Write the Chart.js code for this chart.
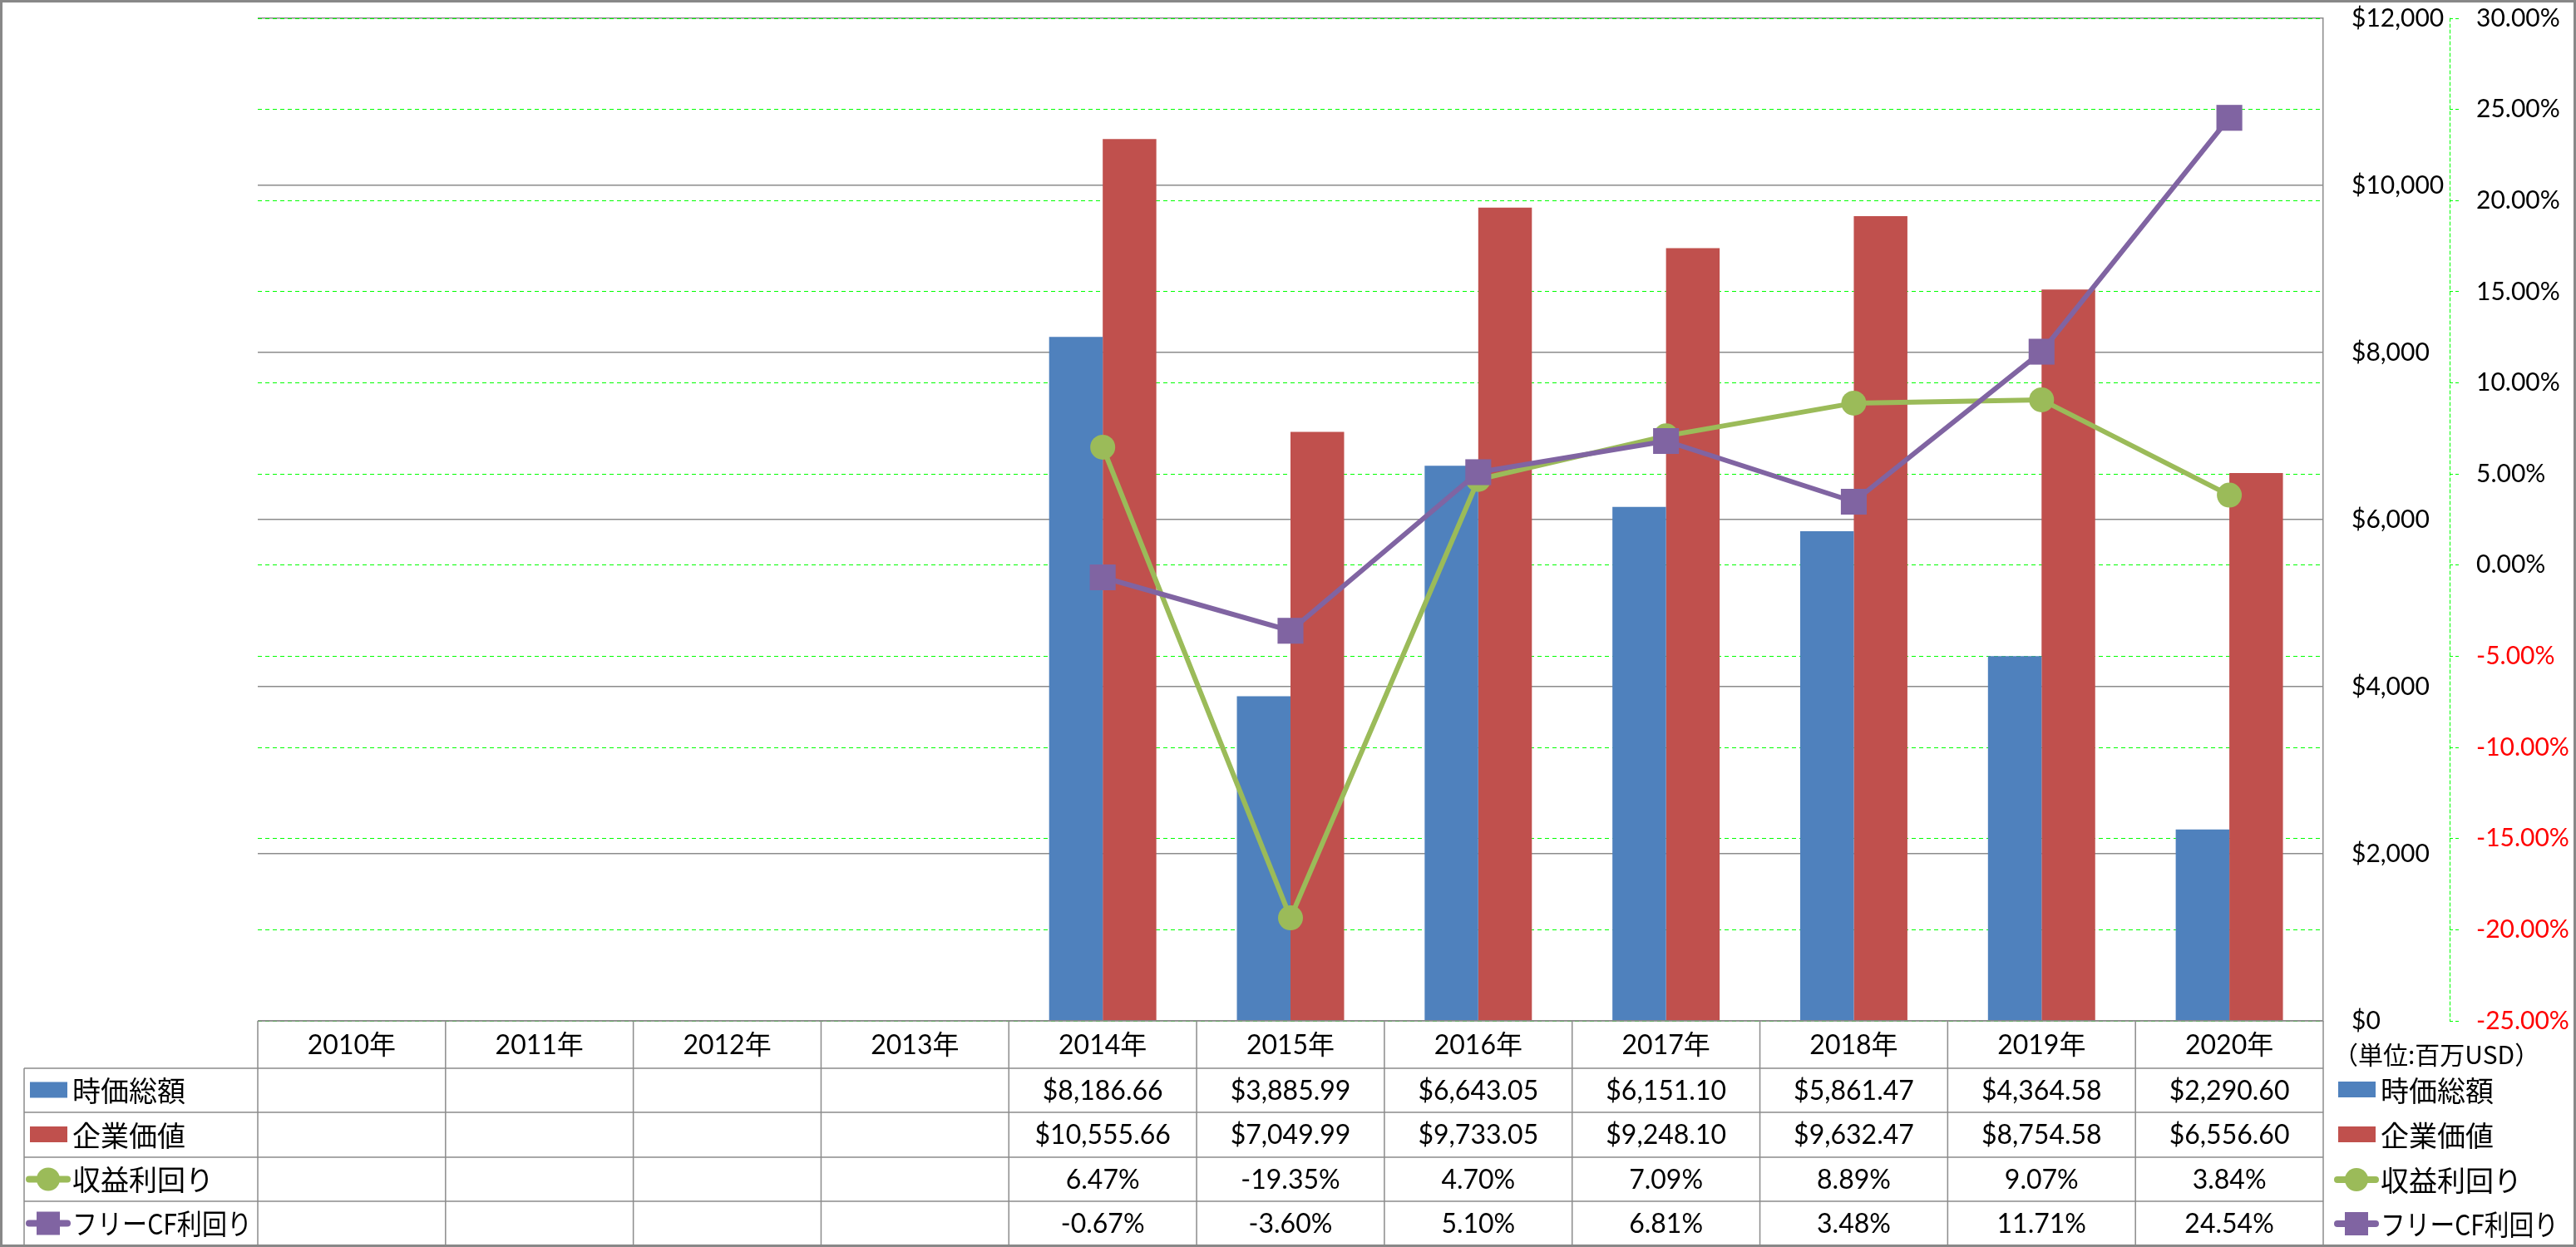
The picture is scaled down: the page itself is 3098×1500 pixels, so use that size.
<!DOCTYPE html>
<html>
<head>
<meta charset="utf-8">
<script src="https://cdn.jsdelivr.net/npm/chart.js@4.4.0/dist/chart.umd.min.js"></script>
<style>
  html, body { margin: 0; padding: 0; background: #fff; }
  #wrap { width: 3098px; height: 1500px; }
</style>
</head>
<body>
<div id="wrap"><canvas id="myChart" width="3098" height="1500"></canvas></div>
<script>
// データ
const years = ['2010年', '2011年', '2012年', '2013年', '2014年', '2015年', '2016年', '2017年', '2018年', '2019年', '2020年'];
const marketCap = [null, null, null, null, 8186.66, 3885.99, 6643.05, 6151.10, 5861.47, 4364.58, 2290.60];
const enterpriseValue = [null, null, null, null, 10555.66, 7049.99, 9733.05, 9248.10, 9632.47, 8754.58, 6556.60];
const earningsYield = [null, null, null, null, 6.47, -19.35, 4.70, 7.09, 8.89, 9.07, 3.84];
const fcfYield = [null, null, null, null, -0.67, -3.60, 5.10, 6.81, 3.48, 11.71, 24.54];
const seriesNames = ['時価総額', '企業価値', '収益利回り', 'フリーCF利回り'];
const unitLabel = '（単位:百万USD）';

const BLUE = '#4F81BD';
const RED = '#C0504D';
const GREEN = '#9BBB59';
const PURPLE = '#8064A2';
const GRAY = '#8c8c8c';
const LATIN = 'Lato, "Noto Sans CJK JP"';
const CJK = '"Noto Sans CJK JP"';

const money = v => '$' + v.toLocaleString('en-US', { minimumFractionDigits: 2, maximumFractionDigits: 2 });
const pct = v => v.toFixed(2) + '%';

// 凡例キーを描く
function drawKey(ctx, i, cx, cy) {
  if (i < 2) {
    ctx.fillStyle = i === 0 ? BLUE : RED;
    ctx.fillRect(cx - 22, cy - 10, 45, 19);
    return;
  }
  const c = i === 2 ? GREEN : PURPLE;
  ctx.strokeStyle = c;
  ctx.lineWidth = 8;
  ctx.lineCap = 'round';
  ctx.beginPath();
  ctx.moveTo(cx - 23, cy);
  ctx.lineTo(cx + 23, cy);
  ctx.stroke();
  ctx.fillStyle = c;
  if (i === 2) {
    ctx.beginPath();
    ctx.arc(cx, cy, 14, 0, Math.PI * 2);
    ctx.fill();
  } else {
    ctx.fillRect(cx - 14, cy - 14, 28, 28);
  }
}

// データテーブル・凡例・枠
const tablePlugin = {
  id: 'dataTable',
  afterDraw(chart) {
    const ctx = chart.ctx;
    const area = chart.chartArea;
    const n = years.length;
    const colW = (area.right - area.left) / n;
    const top = area.bottom;
    const rowY = [top, top + 57, top + 110, top + 164, top + 217, top + 270];
    const legendLeft = 29;
    const rows = [marketCap.map(v => v == null ? '' : money(v)),
                  enterpriseValue.map(v => v == null ? '' : money(v)),
                  earningsYield.map(v => v == null ? '' : pct(v)),
                  fcfYield.map(v => v == null ? '' : pct(v))];

    ctx.save();
    ctx.strokeStyle = GRAY;
    ctx.lineWidth = 1.5;
    ctx.beginPath();
    ctx.moveTo(area.left, rowY[0]); ctx.lineTo(area.right, rowY[0]);
    for (let r = 1; r < rowY.length; r++) {
      ctx.moveTo(legendLeft, rowY[r]); ctx.lineTo(area.right, rowY[r]);
    }
    for (let c = 0; c <= n; c++) {
      const x = area.left + c * colW;
      ctx.moveTo(x, rowY[0]); ctx.lineTo(x, rowY[5]);
    }
    ctx.moveTo(legendLeft, rowY[1]); ctx.lineTo(legendLeft, rowY[5]);
    ctx.stroke();

    ctx.fillStyle = '#000';
    ctx.textAlign = 'center';
    ctx.textBaseline = 'middle';
    ctx.font = '32px ' + LATIN;
    years.forEach((y, c) => {
      ctx.fillText(y, area.left + (c + 0.5) * colW, (rowY[0] + rowY[1]) / 2 + 1);
    });
    rows.forEach((vals, r) => {
      vals.forEach((t, c) => {
        ctx.fillText(t, area.left + (c + 0.5) * colW, (rowY[r + 1] + rowY[r + 2]) / 2 + 1);
      });
    });

    // 表内の凡例
    seriesNames.forEach((name, i) => {
      const cy = (rowY[i + 1] + rowY[i + 2]) / 2;
      drawKey(ctx, i, 58, cy);
      ctx.fillStyle = '#000';
      ctx.textAlign = 'left';
      ctx.font = '34px ' + CJK;
      ctx.fillText(name, 87, cy + 1, 216);
    });

    // 右側の凡例
    ctx.font = '30px ' + CJK;
    ctx.fillStyle = '#000';
    ctx.fillText(unitLabel, 2806, 1269);
    const legendY = [1311, 1365, 1419, 1472];
    seriesNames.forEach((name, i) => {
      drawKey(ctx, i, 2834, legendY[i]);
      ctx.fillStyle = '#000';
      ctx.textAlign = 'left';
      ctx.font = '34px ' + CJK;
      ctx.fillText(name, 2863, legendY[i] + 1, 214);
    });

    // 第2軸の破線
    const y1 = chart.scales.y1;
    ctx.strokeStyle = '#00ff00';
    ctx.lineWidth = 1;
    ctx.setLineDash([4, 3]);
    ctx.beginPath();
    ctx.moveTo(y1.left + 0.5, y1.top);
    ctx.lineTo(y1.left + 0.5, y1.bottom);
    ctx.stroke();
    ctx.setLineDash([]);

    // 外枠
    ctx.strokeStyle = '#888';
    ctx.lineWidth = 3;
    ctx.strokeRect(1.5, 1.5, chart.width - 3, chart.height - 3);
    ctx.restore();
  }
};

const fitAxis = s => {
  s.width = 152;
  s.paddingTop = 0;
  s.paddingBottom = 0;
};

const ctx = document.getElementById('myChart').getContext('2d');
new Chart(ctx, {
  data: {
    labels: years,
    datasets: [
      { type: 'bar', label: seriesNames[0], data: marketCap, backgroundColor: BLUE, yAxisID: 'y', order: 3,
        categoryPercentage: 0.571, barPercentage: 1.0 },
      { type: 'bar', label: seriesNames[1], data: enterpriseValue, backgroundColor: RED, yAxisID: 'y', order: 4,
        categoryPercentage: 0.571, barPercentage: 1.0 },
      { type: 'line', label: seriesNames[2], data: earningsYield, borderColor: GREEN, backgroundColor: GREEN,
        borderWidth: 6, pointStyle: 'circle', pointRadius: 15, pointBorderWidth: 0, pointBackgroundColor: GREEN,
        tension: 0, yAxisID: 'y1', order: 2 },
      { type: 'line', label: seriesNames[3], data: fcfYield, borderColor: PURPLE, backgroundColor: PURPLE,
        borderWidth: 6, pointStyle: 'rect', pointRadius: 22, pointBorderWidth: 0, pointBackgroundColor: PURPLE,
        tension: 0, yAxisID: 'y1', order: 1 }
    ]
  },
  options: {
    responsive: false,
    animation: false,
    devicePixelRatio: 1,
    layout: { padding: { left: 310, top: 22, right: 0, bottom: 272 } },
    plugins: { legend: { display: false }, tooltip: { enabled: false } },
    scales: {
      x: { display: false },
      y: {
        position: 'right', min: 0, max: 12000,
        ticks: { stepSize: 2000, padding: 34, color: '#000', font: { family: 'Lato', size: 30 },
          callback: v => '$' + Number(v).toLocaleString('en-US') },
        grid: { color: GRAY, lineWidth: 1.5, drawTicks: false },
        border: { display: true, color: GRAY, width: 1.5 },
        afterFit: fitAxis
      },
      y1: {
        position: 'right', min: -25, max: 30,
        ticks: { stepSize: 5, padding: 21, font: { family: 'Lato', size: 30 },
          color: c => c.tick.value < 0 ? '#ff0000' : '#000',
          callback: v => Number(v).toFixed(2) + '%' },
        grid: { color: '#00ff00', lineWidth: 1, tickLength: 11, tickColor: '#00ff00', tickBorderDash: [4, 3] },
        border: { display: false, dash: [5, 4] },
        afterFit: fitAxis
      }
    }
  },
  plugins: [tablePlugin]
});
</script>
</body>
</html>
